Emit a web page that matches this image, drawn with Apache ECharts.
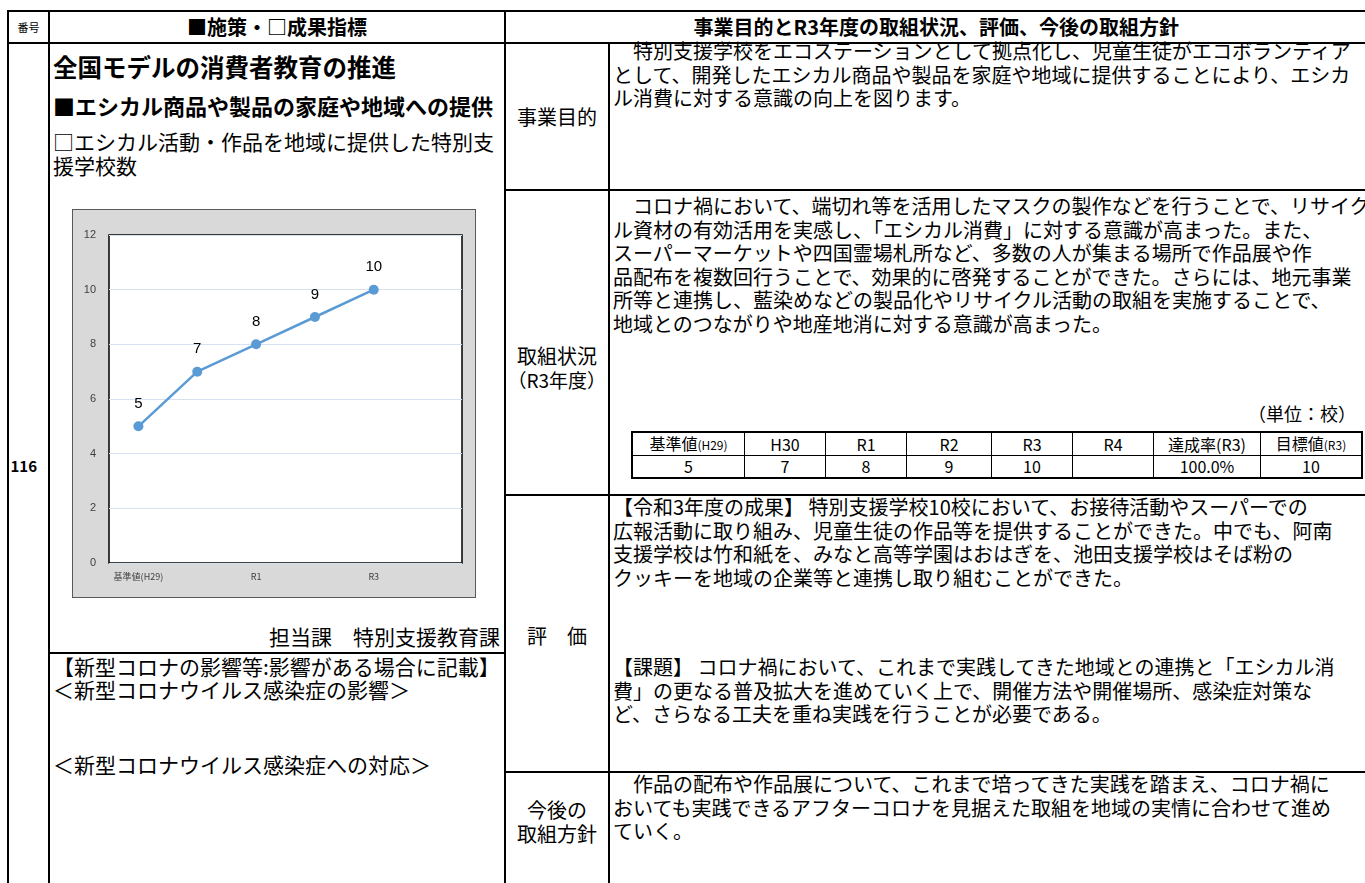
<!DOCTYPE html>
<html><head><meta charset="utf-8">
<script src="https://cdn.jsdelivr.net/npm/echarts@6/dist/echarts.min.js"></script>
<style>
html,body{margin:0;padding:0;background:#fff;}
body{width:1365px;height:883px;overflow:hidden;position:relative;font-family:"Noto Sans CJK JP","Noto Sans",sans-serif;color:#000;}
.h{position:absolute;background:#000;height:2px;}
.v{position:absolute;background:#000;width:2px;}
.t{position:absolute;white-space:nowrap;font-size:20px;line-height:22px;height:22px;}
.b{font-weight:bold;}
#chart{position:absolute;left:72px;top:209px;width:404px;height:389px;border:1px solid #595959;box-sizing:border-box;}
#tbl{position:absolute;left:631px;top:431px;border-collapse:collapse;border:2px solid #000;font-size:16px;}
#tbl td{border:1px solid #000;text-align:center;padding:0;height:21px;line-height:21px;white-space:nowrap;}
.sm{font-size:12px;}
</style>
</head><body>
<div id="chart"></div>
<script>
// ---- data ----
const categories = ['基準値(H29)', 'H30', 'R1', 'R2', 'R3', 'R4'];
const schoolCounts = [5, 7, 8, 9, 10, null];
const yMin = 0, yMax = 12, yStep = 2;
const achievementLabel = '達成率(R3)';
const achievementRate = '100.0%';
const targetLabel = '目標値(R3)';
const targetValue = 10;
const tableColWidths = [111, 80, 80, 84, 80, 80, 106, 100];

// ---- layout helpers ----
function line(cls, x, y, len) {
  const d = document.createElement('div');
  d.className = cls;
  d.style.left = x + 'px'; d.style.top = y + 'px';
  if (cls === 'h') d.style.width = len + 'px'; else d.style.height = len + 'px';
  document.body.appendChild(d);
}
// x: anchor, cy: line centre
function T(x, cy, html, extra, align, fs) {
  const d = document.createElement('div');
  d.className = 't' + (extra ? ' ' + extra : '');
  if (fs) d.style.fontSize = fs + 'px';
  d.innerHTML = html;
  document.body.appendChild(d);
  d.style.top = (cy - 11) + 'px';
  if (align === 'c') { d.style.left = (x - d.offsetWidth / 2) + 'px'; }
  else if (align === 'r') { d.style.left = (x - d.offsetWidth) + 'px'; }
  else d.style.left = x + 'px';
  return d;
}

// grid lines
line('h', 7, 10, 1358);
line('h', 7, 42, 1358);
line('v', 7, 10, 873);
line('v', 48, 10, 873);
line('v', 504, 10, 873);
line('v', 608, 42, 841);
line('h', 504, 189, 861);
line('h', 504, 494, 861);
line('h', 504, 771, 861);
line('h', 48, 652, 458);

// header
T(28.5, 27, '番号', '', 'c', 11);
T(277, 27, '■施策・□成果指標', 'b', 'c', 20);
T(936, 27, '事業目的とR3年度の取組状況、評価、今後の取組方針', 'b', 'c', 20);

// number
T(24, 466, '116', 'b', 'c', 15);

// left column
const L = 53;
T(L, 67, '全国モデルの消費者教育の推進', 'b', '', 24.5);
T(L, 105, '■エシカル商品や製品の家庭や地域への提供', 'b', '', 22);
T(L, 141, '□エシカル活動・作品を地域に提供した特別支', '', '', 21);
T(L, 165, '援学校数', '', '', 21);
T(500, 636, '担当課　特別支援教育課', '', 'r', 21);
T(L, 666, '【新型コロナの影響等:影響がある場合に記載】', '', '', 21);
T(L, 689, '＜新型コロナウイルス感染症の影響＞', '', '', 21);
T(L, 764, '＜新型コロナウイルス感染症への対応＞', '', '', 21);

// label column
T(557, 117, '事業目的', '', 'c');
T(557, 356, '取組状況', '', 'c');
T(557, 380, '（R3年度）', '', 'c', 19);
T(557, 636, '評　価', '', 'c');
T(557, 810, '今後の', '', 'c');
T(557, 834, '取組方針', '', 'c');

// content column: [centre y, text]
const X = 613;
[[51, '　特別支援学校をエコステーションとして拠点化し、児童生徒がエコボランティア'],
 [74.5, 'として、開発したエシカル商品や製品を家庭や地域に提供することにより、エシカ'],
 [98, 'ル消費に対する意識の向上を図ります。'],
 [206, '　コロナ禍において、端切れ等を活用したマスクの製作などを行うことで、リサイク'],
 [229.5, 'ル資材の有効活用を実感し、「エシカル消費」に対する意識が高まった。また、'],
 [253, 'スーパーマーケットや四国霊場札所など、多数の人が集まる場所で作品展や作'],
 [276.5, '品配布を複数回行うことで、効果的に啓発することができた。さらには、地元事業'],
 [300, '所等と連携し、藍染めなどの製品化やリサイクル活動の取組を実施することで、'],
 [323.5, '地域とのつながりや地産地消に対する意識が高まった。'],
 [507, '【令和3年度の成果】 特別支援学校10校において、お接待活動やスーパーでの'],
 [530.5, '広報活動に取り組み、児童生徒の作品等を提供することができた。中でも、阿南'],
 [554, '支援学校は竹和紙を、みなと高等学園はおはぎを、池田支援学校はそば粉の'],
 [577.5, 'クッキーを地域の企業等と連携し取り組むことができた。'],
 [667, '【課題】 コロナ禍において、これまで実践してきた地域との連携と「エシカル消'],
 [690.5, '費」の更なる普及拡大を進めていく上で、開催方法や開催場所、感染症対策な'],
 [714, 'ど、さらなる工夫を重ね実践を行うことが必要である。'],
 [784, '　作品の配布や作品展について、これまで培ってきた実践を踏まえ、コロナ禍に'],
 [807.5, 'おいても実践できるアフターコロナを見据えた取組を地域の実情に合わせて進め'],
 [831, 'ていく。']
].forEach(([y, s]) => T(X, y, s));

T(1356, 413, '（単位：校）', '', 'r', 18);

// data table built from arrays
function lbl(s, small) {
  const i = s.indexOf('(');
  if (!small || i < 0) return s;
  return s.slice(0, i) + '<span class="sm">' + s.slice(i) + '</span>';
}
const tbl = document.createElement('table');
tbl.id = 'tbl';
let r1 = '<tr>', r2 = '<tr>';
categories.forEach((c, i) => {
  r1 += '<td style="width:' + tableColWidths[i] + 'px">' + lbl(c, i === 0) + '</td>';
  r2 += '<td>' + (schoolCounts[i] == null ? '' : schoolCounts[i]) + '</td>';
});
r1 += '<td style="width:' + tableColWidths[6] + 'px">' + achievementLabel + '</td>';
r1 += '<td style="width:' + tableColWidths[7] + 'px">' + lbl(targetLabel, true) + '</td></tr>';
r2 += '<td>' + achievementRate + '</td><td>' + targetValue + '</td></tr>';
tbl.innerHTML = r1 + r2;
document.body.appendChild(tbl);

// chart
const chart = echarts.init(document.getElementById('chart'), null, {renderer: 'canvas'});
chart.setOption({
  animation: false,
  backgroundColor: '#d9d9d9',
  textStyle: {fontFamily: '"Noto Sans CJK JP", sans-serif'},
  grid: {left: 36, right: 13, top: 25, bottom: 34, show: true, backgroundColor: '#fff', borderColor: '#000', borderWidth: 1.5},
  xAxis: {
    type: 'category', data: categories, boundaryGap: true,
    axisLine: {show: false}, axisTick: {show: false},
    axisLabel: {interval: 1, fontSize: 9, color: '#404040', margin: 9}
  },
  yAxis: {
    type: 'value', min: yMin, max: yMax, interval: yStep,
    axisLine: {show: false}, axisTick: {show: false},
    axisLabel: {fontSize: 11, color: '#404040', margin: 13, fontFamily: 'Arial, "Liberation Sans", sans-serif'},
    splitLine: {lineStyle: {color: '#d6e1f1', width: 1}}
  },
  series: [{
    type: 'line', data: schoolCounts, symbol: 'circle', symbolSize: 10,
    lineStyle: {color: '#5b9bd5', width: 2.5}, itemStyle: {color: '#5b9bd5'},
    label: {show: true, position: 'top', distance: 10, fontSize: 15, color: '#000', fontFamily: 'Arial, "Liberation Sans", sans-serif'}
  }]
});
</script>
</body></html>
